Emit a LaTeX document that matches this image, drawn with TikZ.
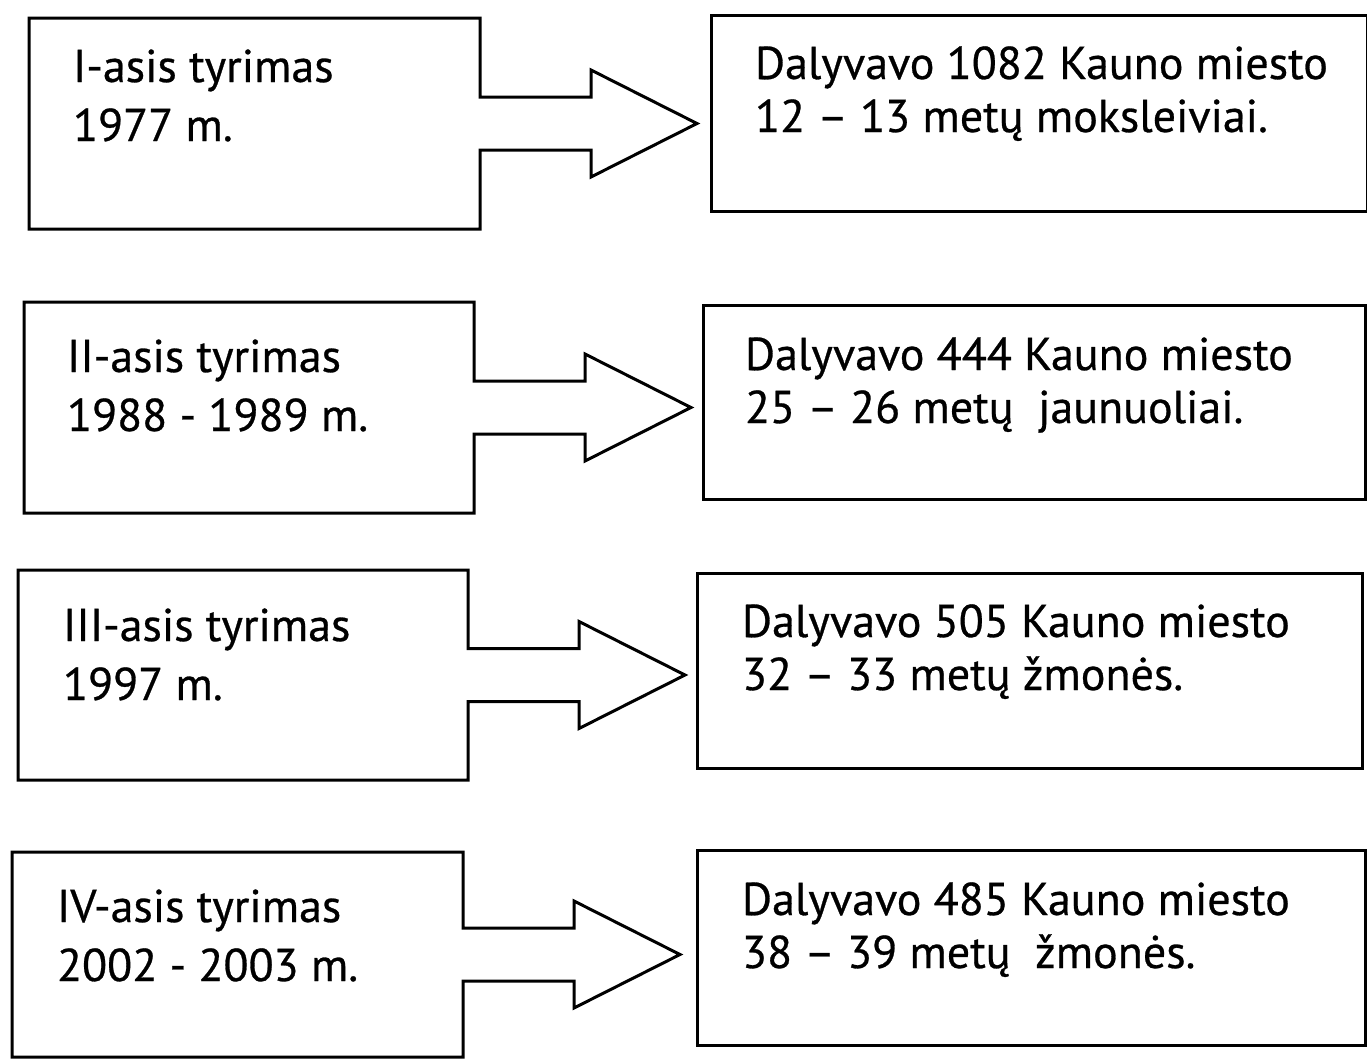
\documentclass[tikz,border=0pt]{standalone}
\usepackage{fontspec}
\setmainfont{PT Sans}[FakeBold=0.6]
\usetikzlibrary{calc}
\begin{document}
\begin{tikzpicture}[x=1pt,y=-1pt,line width=3pt,line join=miter,
  frame/.style={draw=none,inner sep=0pt,outer sep=0pt,rectangle},
  rbox/.style={draw,inner sep=0pt,outer sep=0pt,rectangle},
  ltxt/.style={anchor=base west,inner sep=0pt,outer sep=0pt,align=left,
    font=\fontsize{46}{59}\selectfont},
  rtxt/.style={anchor=base west,inner sep=0pt,outer sep=0pt,align=left,
    font=\fontsize{46}{53}\selectfont}]
\useasboundingbox (0,0) rectangle (1367,1060);
% row 1
\node[frame,minimum width=451pt,minimum height=211pt] (L1) at (254.5,123.5) {};
\node[rbox,minimum width=656pt,minimum height=196pt] (R1) at (1039,113) {};
% row 2
\node[frame,minimum width=450pt,minimum height=211pt] (L2) at (249,407.5) {};
\node[rbox,minimum width=662pt,minimum height=194pt] (R2) at (1034,402) {};
% row 3
\node[frame,minimum width=450pt,minimum height=210pt] (L3) at (243,675) {};
\node[rbox,minimum width=665pt,minimum height=195pt] (R3) at (1029.5,670.5) {};
% row 4
\node[frame,minimum width=451pt,minimum height=205pt] (L4) at (237.5,954.5) {};
\node[rbox,minimum width=668pt,minimum height=195pt] (R4) at (1031,947.5) {};
% left boxes merged with block arrows
\foreach \n in {1,2,3,4}{
  \draw (L\n.north west) -- (L\n.north east)
    -- ($(L\n.east)+(0,-26.5)$) -- ($(L\n.east)+(111,-26.5)$)
    -- ($(L\n.east)+(111,-53.5)$) -- ($(L\n.east)+(217,0)$)
    -- ($(L\n.east)+(111,53.5)$) -- ($(L\n.east)+(111,26.5)$)
    -- ($(L\n.east)+(0,26.5)$) -- (L\n.south east) -- (L\n.south west) -- cycle;
}
% texts (anchored at the baseline of the last line)
\node[ltxt] (t1) at (73,141) {I-asis tyrimas\\1977 m.};
\node[rtxt] (u1) at (755,132) {Dalyvavo 1082 Kauno miesto\\12 – 13 metų moksleiviai.};
\node[ltxt] (t2) at (67,431) {II-asis tyrimas\\1988 - 1989 m.};
\node[rtxt] (u2) at (745,423) {Dalyvavo 444 Kauno miesto\\25 – 26 metų\ \ jaunuoliai.};
\node[ltxt] (t3) at (63,700) {III-asis tyrimas\\1997 m.};
\node[rtxt] (u3) at (742,690) {Dalyvavo 505 Kauno miesto\\32 – 33 metų žmonės.};
\node[ltxt] (t4) at (57,981) {IV-asis tyrimas\\2002 - 2003 m.};
\node[rtxt] (u4) at (742,968) {Dalyvavo 485 Kauno miesto\\38 – 39 metų\ \ žmonės.};
\end{tikzpicture}
\end{document}
